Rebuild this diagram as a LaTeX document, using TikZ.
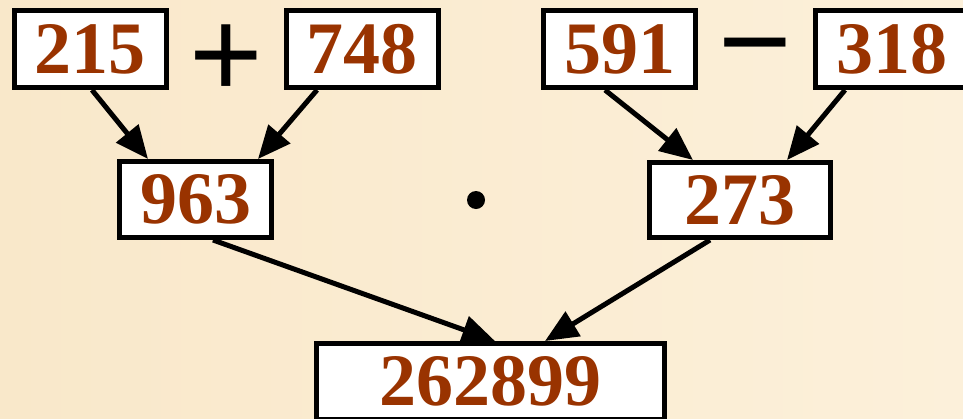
\documentclass[tikz,border=0pt]{standalone}
\usepackage{fontspec}
\setmainfont{Liberation Serif}
\newfontfamily\opfont{Liberation Sans}
\usetikzlibrary{arrows.meta,calc}
\definecolor{numcol}{HTML}{993300}
\definecolor{bgleft}{HTML}{F9E8CA}
\definecolor{bgright}{HTML}{FCF0DA}
\begin{document}
\begin{tikzpicture}[x=1pt,y=-1pt,
  numbox/.style={draw=black,line width=5pt,fill=white,inner sep=0pt,
    minimum width=152pt,minimum height=77pt,text=numcol,
    font=\fontsize{74}{74}\selectfont\bfseries},
  conn/.style={line width=5pt,-{Triangle[length=33pt,width=28pt]}},
  opsym/.style={inner sep=0pt,font=\opfont\fontsize{126}{126}\selectfont}]
\useasboundingbox (0,0) rectangle (963,418);
\shade[left color=bgleft,right color=bgright] (0,0) rectangle (963,418);
\clip (0,0) rectangle (963,418);
\node[numbox] (a) at (90,49) {215};
\node[numbox] (b) at (362,49) {748};
\node[numbox] (c) at (619.5,49) {591};
\node[numbox] (d) at (891.5,49) {318};
\node[numbox,minimum width=152pt,minimum height=76pt] (s) at (195.5,199.5) {963};
\node[numbox,minimum width=181pt,minimum height=75pt] (t) at (740,200) {273};
\node[numbox,minimum width=348pt,minimum height=76pt] (p) at (490.5,381.5) {262899};
\node[opsym] (plus) at (226,61) {+};
\node[opsym] (minus) at (755.5,61) {−};
\fill[black] (476,200) circle (9pt) coordinate (dot);
\draw[conn] ([xshift=2pt]a.south) -- ([xshift=-47.5pt]s.north);
\draw[conn] ([xshift=-45pt]b.south) -- ([xshift=62.5pt]s.north);
\draw[conn] ([xshift=-14.5pt]c.south) -- ([xshift=-47pt]t.north);
\draw[conn] ([xshift=-46.5pt]d.south) -- ([xshift=47pt]t.north);
\draw[conn] ([xshift=17.5pt]s.south) -- ([xshift=4.5pt]p.north);
\draw[conn] ([xshift=-30pt]t.south) -- ([xshift=54.5pt]p.north);
\end{tikzpicture}
\end{document}
